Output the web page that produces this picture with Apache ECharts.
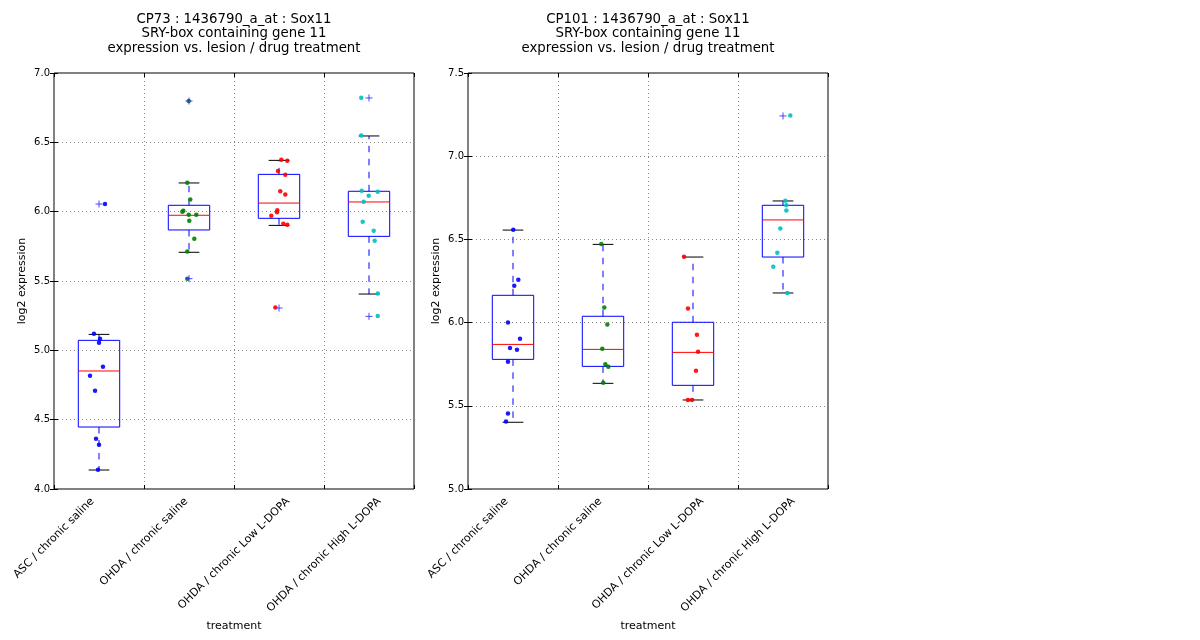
<!DOCTYPE html>
<html>
<head>
<meta charset="utf-8">
<script src="https://cdn.jsdelivr.net/npm/echarts@6/dist/echarts.min.js"></script>
<style>
  html, body { margin: 0; padding: 0; background: #fff; }
  #chart { width: 1200px; height: 640px; }
</style>
</head>
<body>
<div id="chart"></div>
<script>
// groups on the x axis
var categories = ['ASC / chronic saline', 'OHDA / chronic saline', 'OHDA / chronic Low L-DOPA', 'OHDA / chronic High L-DOPA'];
var groupColors = ['#0000ff', '#008000', '#ff0000', '#00bfbf'];

// CP73 - box stats per group: [lower whisker, Q1, median, Q3, upper whisker]
var cp73Box = [
    [4.137, 4.447, 4.851, 5.072, 5.115],
    [5.707, 5.868, 5.974, 6.046, 6.207],
    [5.901, 5.952, 6.062, 6.269, 6.370],
    [5.406, 5.822, 6.070, 6.147, 6.546]
];
// CP73 - outliers [group, value]
var cp73Outliers = [[0, 6.055], [1, 6.798], [1, 5.517], [2, 5.305], [3, 6.820], [3, 5.245]];
// CP73 - samples per group
var cp73Points = [
    [6.055, 5.120, 5.084, 5.055, 4.882, 4.817, 4.709, 4.363, 4.320, 4.139],
    [6.798, 6.209, 6.087, 6.007, 6.000, 5.978, 5.978, 5.935, 5.805, 5.712, 5.517],
    [6.375, 6.368, 6.293, 6.267, 6.147, 6.123, 6.010, 5.995, 5.971, 5.913, 5.906, 5.308],
    [6.822, 6.550, 6.151, 6.144, 6.115, 6.072, 5.928, 5.863, 5.791, 5.409, 5.248]
];
// CP73 - horizontal jitter of the samples (category units)
var cp73Jitter = [
    [0.067, -0.056, 0.011, 0, 0.044, -0.1, -0.044, -0.033, 0, -0.011],
    [-0.003, -0.019, 0.014, -0.063, -0.074, -0.003, 0.081, 0.003, 0.059, -0.019, -0.019],
    [0.026, 0.092, -0.011, 0.07, 0.014, 0.07, -0.019, -0.022, -0.086, 0.048, 0.092, -0.041],
    [-0.086, -0.086, -0.081, 0.097, -0.003, -0.059, -0.07, 0.052, 0.063, 0.097, 0.097]
];

// CP101
var cp101Box = [
    [5.401, 5.779, 5.869, 6.164, 6.556],
    [5.635, 5.737, 5.839, 6.038, 6.470],
    [5.535, 5.623, 5.821, 6.002, 6.394],
    [6.178, 6.394, 6.617, 6.705, 6.731]
];
var cp101Outliers = [[3, 7.242]];
var cp101Points = [
    [6.558, 6.258, 6.222, 6.000, 5.903, 5.847, 5.837, 5.765, 5.453, 5.405],
    [6.472, 6.090, 5.988, 5.843, 5.749, 5.735, 5.639],
    [6.396, 6.084, 5.927, 5.825, 5.711, 5.535, 5.535],
    [7.244, 6.733, 6.705, 6.673, 6.565, 6.420, 6.336, 6.178]
];
var cp101Jitter = [
    [0.003, 0.059, 0.014, -0.056, 0.078, -0.033, 0.044, -0.056, -0.056, -0.078],
    [-0.019, 0.014, 0.048, -0.008, 0.026, 0.059, 0.003],
    [-0.1, -0.056, 0.044, 0.056, 0.033, -0.056, -0.011],
    [0.081, 0.026, 0.037, 0.037, -0.03, -0.063, -0.108, 0.048]
];

var panels = [
    { title: 'CP73 : 1436790_a_at : Sox11\nSRY-box containing gene 11\nexpression vs. lesion / drug treatment',
      left: 54, yMin: 4, yMax: 7, box: cp73Box, outliers: cp73Outliers, points: cp73Points, jitter: cp73Jitter },
    { title: 'CP101 : 1436790_a_at : Sox11\nSRY-box containing gene 11\nexpression vs. lesion / drug treatment',
      left: 468, yMin: 5, yMax: 7.5, box: cp101Box, outliers: cp101Outliers, points: cp101Points, jitter: cp101Jitter }
];

var FONT = 'DejaVu Sans';
var gridTop = 73, gridW = 360, gridH = 416;

// rotated labels centred on the tick, tops lined up under the axis (matplotlib ha=center, rotation=45)
var ctx = document.createElement('canvas').getContext('2d');
ctx.font = '11px "' + FONT + '"';
var widths = categories.map(function (c) { return ctx.measureText(c).width; });
var wMax = Math.max.apply(null, widths);
var labelRich = {};
categories.forEach(function (c, i) {
    // left + bottom padding lifts shorter labels straight up
    var p = (wMax - widths[i]) / 2;
    labelRich['s' + i] = { fontSize: 11, fontFamily: FONT, color: '#000', padding: [0, 0, p, p] };
});
var labelMargin = 6 + 0.7071 * (wMax + 13) / 2;

var tickStyle = { show: true, inside: true, length: 4, lineStyle: { color: '#000', width: 1 } };
var gridLine = { show: true, lineStyle: { color: '#888', width: 1, type: [1, 3] } };

function renderBox(params, api) {
    var x = api.value(0);
    var cx = api.coord([x, 0])[0];
    var L = api.coord([x - 0.23, 0])[0], R = api.coord([x + 0.23, 0])[0];
    var cL = api.coord([x - 0.115, 0])[0], cR = api.coord([x + 0.115, 0])[0];
    var yLo = api.coord([x, api.value(1)])[1];
    var yQ1 = api.coord([x, api.value(2)])[1];
    var yMed = api.coord([x, api.value(3)])[1];
    var yQ3 = api.coord([x, api.value(4)])[1];
    var yHi = api.coord([x, api.value(5)])[1];
    var dash = { stroke: '#0000ff', lineWidth: 1, lineDash: [6.5, 6.5] };
    var cap = { stroke: '#000', lineWidth: 1 };
    return {
        type: 'group',
        children: [
            { type: 'line', shape: { x1: cx, y1: yQ3, x2: cx, y2: yHi }, style: dash },
            { type: 'line', shape: { x1: cx, y1: yQ1, x2: cx, y2: yLo }, style: dash },
            { type: 'line', shape: { x1: cL, y1: yHi, x2: cR, y2: yHi }, style: cap },
            { type: 'line', shape: { x1: cL, y1: yLo, x2: cR, y2: yLo }, style: cap },
            { type: 'rect', shape: { x: L, y: yQ3, width: R - L, height: yQ1 - yQ3 },
              style: { fill: 'none', stroke: '#0000ff', lineWidth: 1 } },
            { type: 'line', shape: { x1: L, y1: yMed, x2: R, y2: yMed }, style: { stroke: '#ff0000', lineWidth: 1 } }
        ]
    };
}

function renderPlus(params, api) {
    var p = api.coord([api.value(0), api.value(1)]);
    var s = { stroke: '#3333ff', lineWidth: 0.9 };
    return {
        type: 'group',
        children: [
            { type: 'line', shape: { x1: p[0] - 3.5, y1: p[1], x2: p[0] + 3.5, y2: p[1] }, style: s },
            { type: 'line', shape: { x1: p[0], y1: p[1] - 3.5, x2: p[0], y2: p[1] + 3.5 }, style: s }
        ]
    };
}

var option = {
    animation: false,
    backgroundColor: '#fff',
    textStyle: { fontFamily: FONT, color: '#000' },
    title: [],
    grid: [],
    xAxis: [],
    yAxis: [],
    series: []
};

panels.forEach(function (pn, i) {
    option.title.push({
        text: pn.title, left: pn.left + gridW / 2, top: 12, textAlign: 'center', padding: 0,
        textStyle: { fontFamily: FONT, fontSize: 13.3, fontWeight: 'normal', color: '#000', lineHeight: 14.5 }
    });
    option.grid.push({
        left: pn.left, top: gridTop, width: gridW, height: gridH, show: true,
        borderColor: '#000', borderWidth: 1, backgroundColor: '#fff', outerBoundsMode: 'none'
    });
    // bottom axis with the group labels (ticks at 0..3, boxes sit at 0.5..3.5)
    option.xAxis.push({
        type: 'value', gridIndex: i, min: 0, max: categories.length, interval: 1, position: 'bottom',
        name: 'treatment', nameLocation: 'middle', nameGap: 127,
        nameTextStyle: { fontFamily: FONT, fontSize: 11, color: '#000' },
        axisLine: { show: false }, axisTick: tickStyle, splitLine: gridLine,
        axisLabel: {
            rotate: 45, align: 'center', verticalAlign: 'middle', margin: labelMargin,
            rich: labelRich,
            formatter: function (v) {
                var k = Math.round(v);
                return k < categories.length ? '{s' + k + '|' + categories[k] + '}' : '';
            }
        }
    });
    option.xAxis.push({
        type: 'value', gridIndex: i, min: 0, max: categories.length, interval: 1, position: 'top',
        axisLine: { show: false }, axisTick: tickStyle, axisLabel: { show: false }, splitLine: { show: false }
    });
    option.yAxis.push({
        type: 'value', gridIndex: i, min: pn.yMin, max: pn.yMax, interval: 0.5, position: 'left',
        name: 'log2 expression', nameLocation: 'middle', nameGap: 26,
        nameTextStyle: { fontFamily: FONT, fontSize: 11, color: '#000' },
        axisLine: { show: false }, axisTick: tickStyle, splitLine: gridLine,
        axisLabel: { fontFamily: FONT, fontSize: 10, color: '#000', margin: 4,
            formatter: function (v) { return v.toFixed(1); } }
    });
    option.yAxis.push({
        type: 'value', gridIndex: i, min: pn.yMin, max: pn.yMax, interval: 0.5, position: 'right',
        axisLine: { show: false }, axisTick: tickStyle, axisLabel: { show: false }, splitLine: { show: false }
    });

    var xi = i * 2, yi = i * 2;
    option.series.push({
        type: 'custom', xAxisIndex: xi, yAxisIndex: yi, renderItem: renderBox, z: 2,
        encode: { x: 0, y: [1, 2, 3, 4, 5] },
        data: pn.box.map(function (b, g) { return [g + 0.5].concat(b); })
    });
    pn.points.forEach(function (vals, g) {
        option.series.push({
            type: 'scatter', xAxisIndex: xi, yAxisIndex: yi, z: 3,
            symbol: 'circle', symbolSize: 4.5,
            itemStyle: { color: groupColors[g], opacity: 0.9 },
            data: vals.map(function (v, k) { return [g + 0.5 + pn.jitter[g][k], v]; })
        });
    });
    option.series.push({
        type: 'custom', xAxisIndex: xi, yAxisIndex: yi, renderItem: renderPlus, z: 4,
        encode: { x: 0, y: 1 },
        data: pn.outliers.map(function (o) { return [o[0] + 0.5, o[1]]; })
    });
});

var myChart = echarts.init(document.getElementById('chart'), null, { renderer: 'canvas' });
myChart.setOption(option);
</script>
</body>
</html>
